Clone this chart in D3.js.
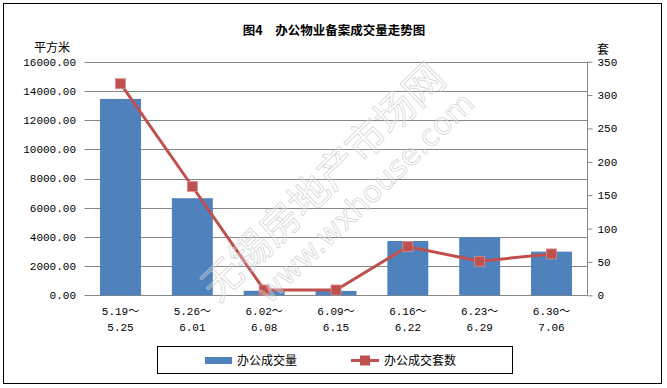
<!DOCTYPE html>
<html>
<head>
<meta charset="utf-8">
<script src="https://cdn.jsdelivr.net/npm/d3@7/dist/d3.min.js"></script>
<style>
  body { margin: 0; background: #fff; }
  text { font-family: "Liberation Mono", "Noto Sans CJK SC", monospace; fill: #000; }
  .cjk { font-family: "Noto Sans CJK SC", sans-serif; }
</style>
</head>
<body>
<div id="chart"></div>
<script>
/**
 * Office property filings: area (bars, left axis) and units (line, right axis)
 */
var categories = [ ['5.19～','5.25'], ['5.26～','6.01'], ['6.02～','6.08'], ['6.09～','6.15'],
                   ['6.16～','6.22'], ['6.23～','6.29'], ['6.30～','7.06'] ];
var areaValues = [ 13450, 6650, 310, 300, 3720, 3970, 2990 ];
var unitValues = [ 317, 163, 8, 8, 73, 51, 62 ];
var leftTicks = [ 0, 2000, 4000, 6000, 8000, 10000, 12000, 14000, 16000 ];
var rightTicks = [ 0, 50, 100, 150, 200, 250, 300, 350 ];
var seriesNames = [ '办公成交量', '办公成交套数' ];

var W = 667, H = 388,
    plot = { left: 84.6, right: 587.4, top: 61.7, bottom: 295.3 },
    barColor = '#4F81BD',
    lineColor = '#C0504D';

var svg = d3.select('#chart').append('svg')
  .attr('width', W)
  .attr('height', H);

// outer frame
svg.append('rect')
  .attr('x', 3.5).attr('y', 3.5)
  .attr('width', 658).attr('height', 380)
  .attr('fill', '#fff')
  .attr('stroke', '#000')
  .attr('stroke-width', 1);

var x = d3.scaleBand()
  .domain(d3.range(categories.length))
  .range([ plot.left, plot.right ])
  .paddingInner(0.43)
  .paddingOuter(0.215);

var yL = d3.scaleLinear().domain([ 0, 16000 ]).range([ plot.bottom, plot.top ]);
var yR = d3.scaleLinear().domain([ 0, 350 ]).range([ plot.bottom, plot.top ]);

// gridlines
svg.append('g').selectAll('line').data(leftTicks)
  .enter().append('line')
    .attr('x1', plot.left).attr('x2', plot.right)
    .attr('y1', function(d) { return Math.round(yL(d)) + 0.5; })
    .attr('y2', function(d) { return Math.round(yL(d)) + 0.5; })
    .attr('stroke', '#868686');

// left tick labels
svg.append('g').selectAll('text').data(leftTicks)
  .enter().append('text')
    .attr('x', 76)
    .attr('y', function(d) { return yL(d); })
    .attr('dy', '0.35em')
    .attr('text-anchor', 'end')
    .style('font-size', '11px')
    .text(function(d) { return d3.format('.2f')(d); });

// right axis
var rAxis = svg.append('g')
  .attr('transform', 'translate(' + (Math.round(plot.right) + 0.5) + ',0)')
  .call(d3.axisRight(yR).tickValues(rightTicks).tickSize(5).tickPadding(5));
rAxis.select('.domain').attr('stroke', '#868686').attr('d', 'M0,' + plot.top + 'V' + plot.bottom);
rAxis.selectAll('.tick line').attr('stroke', '#868686');
rAxis.selectAll('.tick text')
  .style('font-size', '11px')
  .style('font-family', '"Liberation Mono", monospace');

// axis unit titles
svg.append('text').attr('class', 'cjk')
  .attr('x', 52).attr('y', 52)
  .attr('text-anchor', 'middle')
  .style('font-size', '12px')
  .text('平方米');
svg.append('text').attr('class', 'cjk')
  .attr('x', 603).attr('y', 54)
  .attr('text-anchor', 'middle')
  .style('font-size', '12px')
  .text('套');

// title
svg.append('text').attr('class', 'cjk')
  .attr('x', 334).attr('y', 35)
  .attr('text-anchor', 'middle')
  .style('font-size', '12.5px')
  .style('font-weight', 'bold')
  .text('图4　办公物业备案成交量走势图');

// bars
svg.append('g').selectAll('rect').data(areaValues)
  .enter().append('rect')
    .attr('x', function(d, i) { return x(i); })
    .attr('y', function(d) { return yL(d); })
    .attr('width', x.bandwidth())
    .attr('height', function(d) { return yL(0) - yL(d); })
    .attr('fill', barColor);

// line
var line = d3.line()
  .x(function(d, i) { return x(i) + x.bandwidth() / 2; })
  .y(function(d) { return yR(d); });

svg.append('path')
  .datum(unitValues)
  .attr('d', line)
  .attr('fill', 'none')
  .attr('stroke', lineColor)
  .attr('stroke-width', 3);

svg.append('g').selectAll('rect').data(unitValues)
  .enter().append('rect')
    .attr('x', function(d, i) { return x(i) + x.bandwidth() / 2 - 5; })
    .attr('y', function(d) { return yR(d) - 5; })
    .attr('width', 10)
    .attr('height', 10)
    .attr('fill', lineColor)
    .attr('stroke', '#d88f8c')
    .attr('stroke-width', 0.8);

// watermark (outlined, drawn over the marks)
var wm = svg.append('g')
  .attr('transform', 'translate(323,182) rotate(-44)')
  .style('opacity', 0.75);
wm.append('text').attr('class', 'cjk')
  .attr('x', 0).attr('y', 14)
  .attr('text-anchor', 'middle')
  .style('font-size', '40px')
  .style('fill', 'rgba(255,255,255,0.35)')
  .style('stroke', '#c4c4c4')
  .style('stroke-width', 0.7)
  .text('无锡房地产市场网');
wm.append('text')
  .attr('x', 20).attr('y', 51)
  .attr('text-anchor', 'middle')
  .style('font-family', '"DejaVu Sans", sans-serif')
  .style('font-size', '30px')
  .style('fill', 'rgba(255,255,255,0.35)')
  .style('stroke', '#c4c4c4')
  .style('stroke-width', 0.7)
  .text('www.wxhouse.com');

// category labels
var cat = svg.append('g').selectAll('text').data(categories)
  .enter().append('text')
    .attr('text-anchor', 'middle')
    .style('font-size', '11px');
cat.append('tspan')
  .attr('x', function(d, i) { return x(i) + x.bandwidth() / 2; })
  .attr('y', 315)
  .text(function(d) { return d[0]; });
cat.append('tspan')
  .attr('x', function(d, i) { return x(i) + x.bandwidth() / 2; })
  .attr('y', 331)
  .text(function(d) { return d[1]; });

// legend
var legend = svg.append('g');
legend.append('rect')
  .attr('x', 157.5).attr('y', 346.5)
  .attr('width', 355).attr('height', 27)
  .attr('fill', '#fff')
  .attr('stroke', '#000');
legend.append('rect')
  .attr('x', 205).attr('y', 357)
  .attr('width', 27).attr('height', 7)
  .attr('fill', barColor);
legend.append('text').attr('class', 'cjk')
  .attr('x', 237).attr('y', 364.5)
  .style('font-size', '12px')
  .text(seriesNames[0]);
legend.append('line')
  .attr('x1', 351).attr('x2', 379)
  .attr('y1', 360.5).attr('y2', 360.5)
  .attr('stroke', lineColor)
  .attr('stroke-width', 3);
legend.append('rect')
  .attr('x', 360).attr('y', 355.5)
  .attr('width', 10).attr('height', 10)
  .attr('fill', lineColor);
legend.append('text').attr('class', 'cjk')
  .attr('x', 384).attr('y', 364.5)
  .style('font-size', '12px')
  .text(seriesNames[1]);
</script>
</body>
</html>
